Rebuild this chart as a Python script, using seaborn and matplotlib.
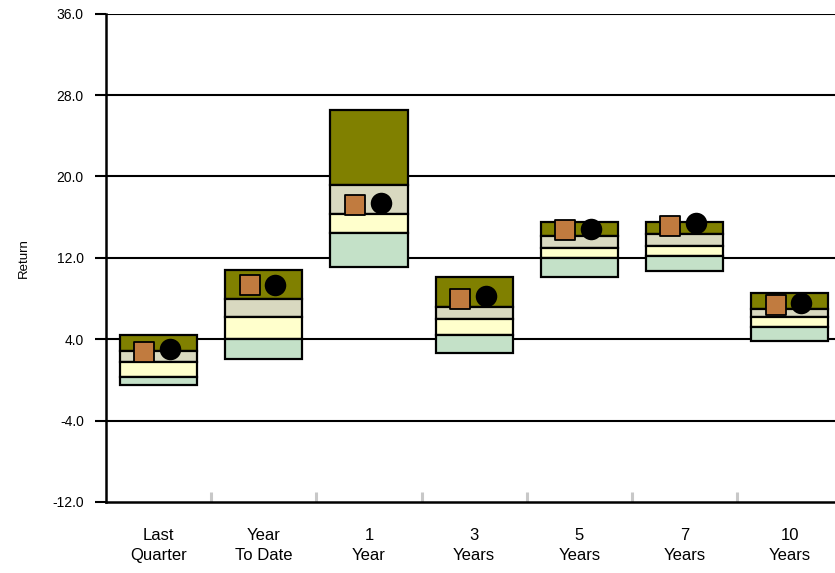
import matplotlib
matplotlib.use("Agg")
import matplotlib.pyplot as plt
import seaborn as sns
import pandas as pd
import numpy as np

# === Data ===
periods = ["Last\nQuarter", "Year\nTo Date", "1\nYear", "3\nYears", "5\nYears", "7\nYears", "10\nYears"]
# band edges: top (5th pct), 25th, median, 75th, bottom (95th pct)
top_5th = [4.4, 10.8, 26.5, 10.1, 15.5, 15.5, 8.5]
pct_25th = [2.8, 8.0, 19.2, 7.2, 14.1, 14.3, 7.0]
median = [1.8, 6.2, 16.3, 6.0, 13.0, 13.2, 6.2]
pct_75th = [0.3, 4.0, 14.4, 4.4, 12.0, 12.2, 5.2]
bottom_95th = [-0.5, 2.1, 11.1, 2.6, 10.1, 10.7, 3.8]
portfolio = [2.7, 9.3, 17.2, 8.0, 14.7, 15.1, 7.4]
benchmark = [3.0, 9.3, 17.4, 8.2, 14.8, 15.4, 7.6]

# === Styling ===
sns.set_theme(style="white")
plt.rcParams["font.family"] = ["Liberation Sans", "DejaVu Sans"]
plt.rcParams["text.color"] = "black"
plt.rcParams["axes.labelcolor"] = "black"

band_colors = ["#808000", "#D9D9C0", "#FFFFCC", "#C4E1C8"]
fig = plt.figure(figsize=(8.35, 5.73), dpi=100)
ax = fig.add_axes([0.127, 0.124, 0.873, 0.852])

x = np.arange(len(periods))
edges = [top_5th, pct_25th, median, pct_75th, bottom_95th]
for i, color in enumerate(band_colors):
    hi = np.array(edges[i])
    lo = np.array(edges[i + 1])
    ax.bar(x, hi - lo, bottom=lo, width=0.735, color=color,
           edgecolor="black", linewidth=1.6, zorder=3)

df = pd.DataFrame({"x": x, "portfolio": portfolio, "benchmark": benchmark})
sns.scatterplot(data=df, x=df["x"] - 0.135, y="portfolio", marker="s", s=200,
                color="#C17B3F", edgecolor="black", linewidth=1.3, zorder=4, ax=ax)
sns.scatterplot(data=df, x=df["x"] + 0.11, y="benchmark", marker="o", s=240,
                color="black", edgecolor="black", linewidth=0, zorder=5, ax=ax)

# === Axes ===
ax.set_ylim(-12, 36)
ax.set_xlim(-0.5, 6.43)
yticks = np.arange(-12, 37, 8)
ax.set_yticks(yticks)
ax.set_yticklabels([f"{v:.1f}" for v in yticks], fontsize=10)
for v in yticks[1:]:
    ax.axhline(v, color="black", linewidth=1.5, zorder=1)

ax.set_xticks(x)
ax.set_xticklabels(periods, fontsize=12, linespacing=1.4)
ax.set_xticks(np.arange(0.5, 6.0, 1.0), minor=True)
ax.tick_params(axis="x", which="major", length=0, pad=19, labelcolor="black")
ax.tick_params(axis="x", which="minor", direction="in", length=7, width=2.2,
               color="#C8C8C8", bottom=True)
ax.tick_params(axis="y", which="major", direction="out", length=8, width=1.5,
               color="black", pad=8, left=True, labelcolor="black")

for side in ["top", "right"]:
    ax.spines[side].set_visible(False)
for side in ["left", "bottom"]:
    ax.spines[side].set_color("black")
    ax.spines[side].set_linewidth(1.8)

ax.set_xlabel("")
ax.set_ylabel("Return", fontsize=9.5, labelpad=16)

fig.savefig("out.png", dpi=100)
plt.close(fig)
